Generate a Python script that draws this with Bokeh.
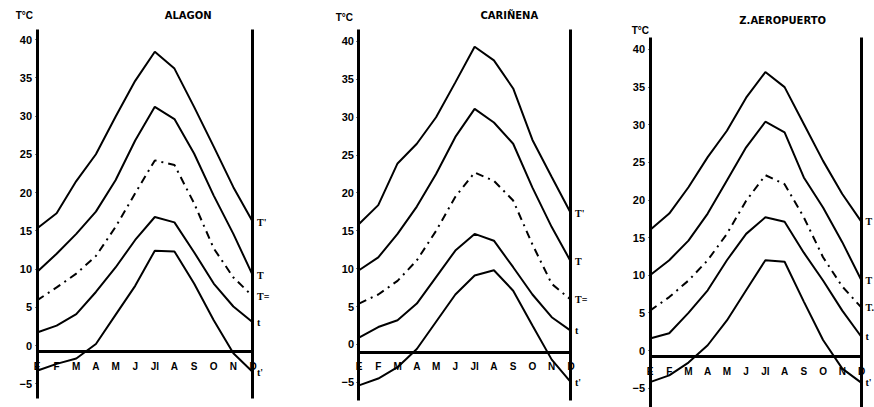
from bokeh.plotting import figure
from bokeh.layouts import row
from bokeh.models import (FixedTicker, LinearAxis, Label, LabelSet,
                          ColumnDataSource, Range1d)
from bokeh.embed import file_html
from bokeh.resources import INLINE

# ---------------- data ----------------
months = ["E", "F", "M", "A", "M", "J", "Jl", "A", "S", "O", "N", "D"]
month_idx = list(range(12))
y_ticks = [-5, 0, 5, 10, 15, 20, 25, 30, 35, 40]

# ALAGON
alagon_T_abs_max = [15.3, 17.3, 21.5, 25.0, 29.9, 34.6, 38.4, 36.2, 31.2, 26.0, 20.7, 16.1]
alagon_T_max = [9.6, 12.0, 14.6, 17.5, 21.6, 26.8, 31.2, 29.6, 25.1, 19.6, 14.6, 9.1]
alagon_T_mean = [5.9, 7.6, 9.4, 11.7, 15.5, 19.9, 24.2, 23.6, 18.6, 12.7, 8.9, 6.4]
alagon_t_min = [1.7, 2.6, 4.1, 7.0, 10.2, 13.8, 16.8, 16.1, 12.2, 8.1, 5.1, 3.0]
alagon_t_abs_min = [-3.3, -2.4, -1.7, 0.2, 4.0, 7.8, 12.4, 12.3, 8.1, 3.3, -1.0, -3.5]
alagon_end_labels = ["T'", "T", "T=", "t", "t'"]

# CARIÑENA
carinena_T_abs_max = [15.9, 18.4, 23.9, 26.5, 30.0, 34.6, 39.3, 37.5, 33.8, 27.0, 22.1, 17.3]
carinena_T_max = [9.8, 11.5, 14.6, 18.2, 22.5, 27.4, 31.1, 29.3, 26.5, 20.7, 15.5, 10.9]
carinena_T_mean = [5.4, 6.6, 8.4, 11.1, 15.0, 19.5, 22.7, 21.6, 19.0, 13.2, 8.0, 5.9]
carinena_t_min = [0.9, 2.3, 3.2, 5.4, 8.9, 12.4, 14.6, 13.7, 10.2, 6.6, 3.6, 1.8]
carinena_t_abs_min = [-5.4, -4.5, -3.0, -0.6, 3.0, 6.6, 9.1, 9.8, 7.1, 2.5, -2.0, -5.0]
carinena_end_labels = ["T'", "T", "T=", "t", "t'"]

# Z. AEROPUERTO
zaragoza_T_abs_max = [16.0, 18.2, 21.7, 25.7, 29.2, 33.6, 37.0, 35.0, 30.1, 25.2, 20.8, 17.1]
zaragoza_T_max = [10.0, 12.0, 14.6, 18.2, 22.6, 27.0, 30.4, 29.0, 23.0, 19.0, 14.4, 9.3]
zaragoza_T_mean = [5.3, 7.1, 9.3, 12.0, 15.5, 19.9, 23.3, 22.1, 17.7, 12.4, 8.5, 5.7]
zaragoza_t_min = [1.6, 2.3, 5.0, 8.0, 12.0, 15.5, 17.7, 17.1, 13.0, 9.3, 5.3, 1.8]
zaragoza_t_abs_min = [-4.2, -3.3, -1.6, 0.7, 4.0, 8.0, 12.0, 11.8, 6.5, 1.4, -2.4, -4.3]
zaragoza_end_labels = ["T", "T", "T.", "t", "t'"]

FONT = "Liberation Sans"
TITLE_FONT = "DejaVu Sans"


def make_panel(title, series, end_labels, width, height, x_lo, x_hi,
               y_lo, y_hi, axis_lo, axis_hi, zero_at,
               title_x, title_y, unit_x, unit_y):
    p = figure(width=width, height=height, output_backend="svg",
               toolbar_location=None, x_range=Range1d(x_lo, x_hi),
               y_range=Range1d(y_lo, y_hi),
               min_border_left=0, min_border_right=0,
               min_border_top=0, min_border_bottom=0)
    p.outline_line_color = None
    p.xgrid.visible = False
    p.ygrid.visible = False
    p.background_fill_color = "white"
    p.border_fill_color = "white"

    # month axis along the zero line, between the two vertical axes
    xa = p.xaxis[0]
    xa.fixed_location = zero_at
    xa.bounds = (0, 11)
    xa.ticker = FixedTicker(ticks=month_idx)
    xa.major_label_overrides = {i: m for i, m in zip(month_idx, months)}
    xa.axis_line_width = 3
    xa.axis_line_color = "black"
    xa.major_tick_line_color = None
    xa.minor_tick_line_color = None
    xa.major_label_text_font = FONT
    xa.major_label_text_font_style = "bold"
    xa.major_label_text_font_size = "10px"
    xa.major_label_text_color = "black"
    xa.major_label_standoff = 3

    # temperature axis at January
    ya = p.yaxis[0]
    ya.fixed_location = 0
    ya.bounds = (axis_lo, axis_hi)
    ya.ticker = FixedTicker(ticks=y_ticks)
    ya.axis_line_width = 3
    ya.axis_line_color = "black"
    ya.major_tick_in = 0
    ya.major_tick_out = 2
    ya.major_tick_line_width = 1
    ya.minor_tick_line_color = None
    ya.major_label_text_font = FONT
    ya.major_label_text_font_style = "bold"
    ya.major_label_text_font_size = "11px"
    ya.major_label_text_color = "black"
    ya.major_label_standoff = 3

    # closing vertical axis at December
    ra = LinearAxis(fixed_location=11, bounds=(axis_lo, axis_hi),
                    ticker=FixedTicker(ticks=[]), axis_line_width=3,
                    axis_line_color="black", major_tick_line_color=None,
                    minor_tick_line_color=None,
                    major_label_text_font_size="0px")
    p.add_layout(ra, "left")

    for i, ys in enumerate(series):
        if i == 2:
            p.line(month_idx, ys, line_color="black", line_width=2,
                   line_dash="8 5 2 5")
        else:
            p.line(month_idx, ys, line_color="black", line_width=2)

    src = ColumnDataSource(dict(x=[11] * len(series),
                                y=[s[-1] for s in series],
                                t=end_labels))
    p.add_layout(LabelSet(x="x", y="y", text="t", source=src, x_offset=4,
                          text_baseline="middle", text_align="left",
                          text_font=FONT, text_font_style="bold",
                          text_font_size="10px", text_color="black"))

    p.add_layout(Label(x=title_x, y=title_y, text=title, text_align="center",
                       text_baseline="middle", text_font=TITLE_FONT,
                       text_font_style="bold", text_font_size="10px",
                       text_color="black"))
    p.add_layout(Label(x=unit_x, y=unit_y, text="T°C", text_align="right",
                       text_baseline="middle", text_font=FONT,
                       text_font_style="bold", text_font_size="10px",
                       text_color="black"))
    return p


p1 = make_panel("ALAGON",
                [alagon_T_abs_max, alagon_T_max, alagon_T_mean,
                 alagon_t_min, alagon_t_abs_min],
                alagon_end_labels, 290, 407, -1.859, 12.910,
                -8.10, 45.10, -6.93, 41.3, -0.8,
                7.7, 43.1, -0.2, 43.1)
p2 = make_panel("CARIÑENA",
                [carinena_T_abs_max, carinena_T_max, carinena_T_mean,
                 carinena_t_min, carinena_t_abs_min],
                carinena_end_labels, 300, 407, -3.554, 12.012,
                -8.32, 45.41, -7.39, 41.58, -1.05,
                7.8, 43.4, -0.31, 43.2)
p3 = make_panel("Z.AEROPUERTO",
                [zaragoza_T_abs_max, zaragoza_T_max, zaragoza_T_mean,
                 zaragoza_t_min, zaragoza_t_abs_min],
                zaragoza_end_labels, 284, 407, -3.095, 11.676,
                -7.57, 46.51, -7.57, 41.6, -0.8,
                6.9, 43.9, -0.05, 42.5)

layout = row(p1, p2, p3)
open("out.html", "w").write(file_html(layout, INLINE))
